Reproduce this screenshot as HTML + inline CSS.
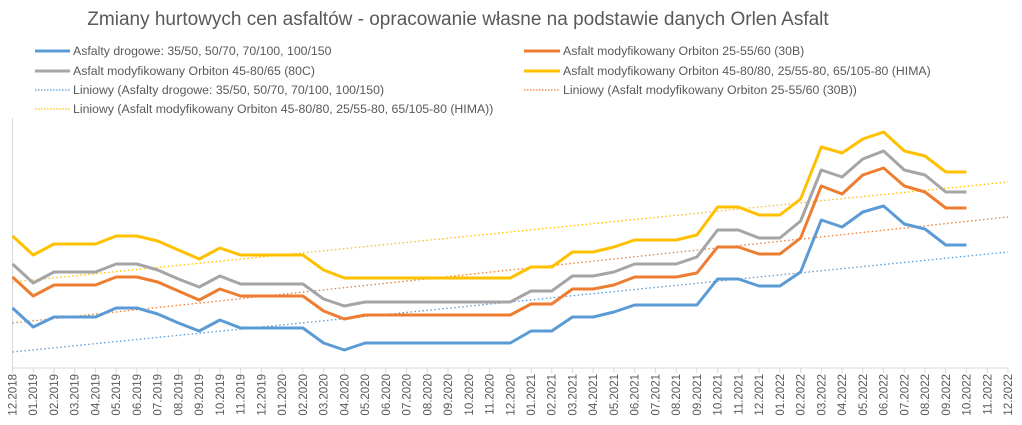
<!DOCTYPE html>
<html><head><meta charset="utf-8"><style>
body{margin:0;background:#fff;}
svg{display:block;font-family:"Liberation Sans",sans-serif;}
</style></head><body>
<svg id="s" width="1022" height="425" xmlns="http://www.w3.org/2000/svg">
<rect width="1022" height="425" fill="#fff"/>
<text x="458" y="25" font-size="19" fill="#595959" text-anchor="middle">Zmiany hurtowych cen asfaltów - opracowanie własne na podstawie danych Orlen Asfalt</text>
<g font-size="12.3" fill="#595959">
<line x1="35" y1="51" x2="70" y2="51" stroke="#5b9bd5" stroke-width="3"/><text x="73" y="55">Asfalty drogowe: 35/50, 50/70, 70/100, 100/150</text>
<line x1="35" y1="71" x2="70" y2="71" stroke="#a5a5a5" stroke-width="3"/><text x="73" y="75">Asfalt modyfikowany Orbiton 45-80/65 (80C)</text>
<line x1="35" y1="90" x2="70" y2="90" stroke="#5b9bd5" stroke-width="1.2" stroke-dasharray="1.5,1.5"/><text x="73" y="94">Liniowy (Asfalty drogowe: 35/50, 50/70, 70/100, 100/150)</text>
<line x1="35" y1="109" x2="70" y2="109" stroke="#ffc000" stroke-width="1.2" stroke-dasharray="1.5,1.5"/><text x="73" y="113">Liniowy (Asfalt modyfikowany Orbiton 45-80/80, 25/55-80, 65/105-80 (HIMA))</text>
<line x1="524" y1="51" x2="560" y2="51" stroke="#ed7d31" stroke-width="3"/><text x="563" y="55">Asfalt modyfikowany Orbiton 25-55/60 (30B)</text>
<line x1="524" y1="71" x2="560" y2="71" stroke="#ffc000" stroke-width="3"/><text x="563" y="75">Asfalt modyfikowany Orbiton 45-80/80, 25/55-80, 65/105-80 (HIMA)</text>
<line x1="524" y1="90" x2="560" y2="90" stroke="#ed7d31" stroke-width="1.2" stroke-dasharray="1.5,1.5"/><text x="563" y="94">Liniowy (Asfalt modyfikowany Orbiton 25-55/60 (30B))</text>
</g>
<line x1="12.5" y1="118" x2="12.5" y2="368" stroke="#d9d9d9"/>
<line x1="12.5" y1="368" x2="1008" y2="368" stroke="#d9d9d9"/>
<g id="g"></g>
</svg>
<script>
var g=document.getElementById('g'),ns='http://www.w3.org/2000/svg';
var x0=12.5,dx=(1008-12.5)/48;
function el(t,a,txt){var e=document.createElementNS(ns,t);for(var k in a)e.setAttribute(k,a[k]);if(txt)e.textContent=txt;g.appendChild(e);return e;}
var m=12,y=2018;
for(var i=0;i<=48;i++){var x=x0+i*dx;
el('line',{x1:x,y1:368,x2:x,y2:373,stroke:'#d9d9d9'});
var lbl=(m<10?'0':'')+m+'.'+y;
el('text',{x:0,y:0,'font-size':'11.5',fill:'#595959','text-anchor':'end',transform:'translate('+(x+4)+',374) rotate(-90)'},lbl);
m++;if(m>12){m=1;y++;}}
el('line',{x1:x0,y1:352,x2:1008,y2:252,stroke:'#5b9bd5','stroke-width':1.3,'stroke-dasharray':'1.5,2.5'});
el('line',{x1:x0,y1:323,x2:1008,y2:217,stroke:'#ed7d31','stroke-width':1.3,'stroke-dasharray':'1.5,2.5'});
el('line',{x1:x0,y1:282,x2:1008,y2:182,stroke:'#ffc000','stroke-width':1.3,'stroke-dasharray':'1.5,2.5'});
var S=[
['#5b9bd5',[308,327,317,317,317,308,308,314,323,331,320,328,328,328,328,343,350,343,343,343,343,343,343,343,343,331,331,317,317,312,305,305,305,305,279,279,286,286,272,220,227,212,206,224,229,245,245]],
['#ed7d31',[277,296,285,285,285,277,277,282,291,300,289,296,296,296,296,311,319,315,315,315,315,315,315,315,315,304,304,289,289,285,277,277,277,273,247,247,254,254,238,186,194,175,168,186,192,208,208]],
['#a5a5a5',[264,283,272,272,272,264,264,270,279,287,276,284,284,284,284,299,306,302,302,302,302,302,302,302,302,291,291,276,276,272,264,264,264,257,230,230,238,238,221,170,177,159,151,170,175,192,192]],
['#ffc000',[236,255,244,244,244,236,236,241,250,259,248,255,255,255,255,270,278,278,278,278,278,278,278,278,278,267,267,252,252,247,240,240,240,235,207,207,215,215,199,147,153,139,132,151,156,172,172]]];
S.forEach(function(s){var p=s[1].map(function(v,i){return (x0+i*dx).toFixed(1)+','+v;}).join(' ');
el('polyline',{points:p,fill:'none',stroke:s[0],'stroke-width':3,'stroke-linejoin':'round'});});
</script>
</body></html>
